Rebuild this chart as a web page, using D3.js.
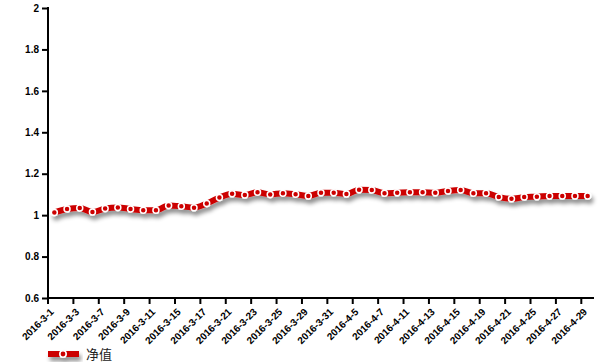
<!DOCTYPE html>
<html>
<head>
  <meta charset="UTF-8">
  <style>
body{ margin:0; background:#fff; }
svg{ display:block; }
.axis text{ font-family:"Liberation Sans", Arial, sans-serif; font-size:10px; font-weight:bold; fill:#000; }
.legend text{ font-family:"Noto Sans CJK SC", sans-serif; font-size:13px; fill:#222; }
  </style>
</head>
<body>
<svg></svg>
<script src="https://d3js.org/d3.v7.min.js"></script>
<script>

let width = 600, height = 362;

// trading days 2016-3-1 .. 2016-4-29
let dates = ["2016-3-1","2016-3-2","2016-3-3","2016-3-4","2016-3-7","2016-3-8","2016-3-9","2016-3-10","2016-3-11",
  "2016-3-14","2016-3-15","2016-3-16","2016-3-17","2016-3-18","2016-3-21","2016-3-22","2016-3-23","2016-3-24",
  "2016-3-25","2016-3-28","2016-3-29","2016-3-30","2016-3-31","2016-4-1","2016-4-5","2016-4-6","2016-4-7",
  "2016-4-8","2016-4-11","2016-4-12","2016-4-13","2016-4-14","2016-4-15","2016-4-18","2016-4-19","2016-4-20",
  "2016-4-21","2016-4-22","2016-4-25","2016-4-26","2016-4-27","2016-4-28","2016-4-29"]

let nav = [1.013,1.030,1.035,1.015,1.032,1.037,1.030,1.024,1.024,1.047,1.043,1.036,1.056,1.085,1.103,1.097,
  1.110,1.100,1.106,1.101,1.093,1.108,1.108,1.102,1.123,1.121,1.106,1.108,1.110,1.110,1.108,1.117,1.121,
  1.106,1.106,1.087,1.079,1.087,1.089,1.093,1.092,1.093,1.092]

let yTicks = [0.6, 0.8, 1, 1.2, 1.4, 1.6, 1.8, 2]
let seriesName = "净值"

let svg = d3.select("svg").attr("width", width).attr("height", height)

let x = d3.scaleBand().domain(dates).range([48, 594]).padding(0)
let y = d3.scaleLinear().domain([0.6, 2]).range([298, 8])

let defs = svg.append("defs")
let f = defs.append("filter").attr("id", "shadow")
    .attr("x", "-10%").attr("y", "-50%").attr("width", "120%").attr("height", "300%")
f.append("feDropShadow").attr("dx", 2).attr("dy", 4).attr("stdDeviation", 2)
    .attr("flood-color", "#000").attr("flood-opacity", 0.45)

// y axis
let yAxis = svg.append("g").attr("class", "axis")
    .attr("transform", "translate(48,0)")
    .call(d3.axisLeft(y).tickValues(yTicks).tickSize(6).tickPadding(3).tickFormat(d3.format("")))
yAxis.select(".domain").remove()
yAxis.selectAll("line").attr("stroke", "#000").attr("stroke-width", 2)
svg.append("line").attr("x1", 48).attr("x2", 48).attr("y1", 7).attr("y2", 299)
    .attr("stroke", "#000").attr("stroke-width", 2)

// x axis
let labelDates = dates.filter((d, i) => i % 2 == 0)
let xAxis = svg.append("g").attr("class", "axis")
    .attr("transform", "translate(0,298)")
xAxis.append("line").attr("x1", 47).attr("x2", 594).attr("stroke", "#000").attr("stroke-width", 2)
let xt = xAxis.selectAll("g.tick").data(labelDates).enter().append("g")
    .attr("class", "tick")
    .attr("transform", d => "translate(" + x(d) + ",0)")
xt.append("line").attr("y1", 0).attr("y2", 6).attr("stroke", "#000").attr("stroke-width", 2)
xt.append("text")
    .attr("text-anchor", "end")
    .attr("transform", "translate(4,12) rotate(-45)")
    .attr("dy", "0.35em")
    .text(d => d)

// line
let line = d3.line()
    .x((d, i) => x(dates[i]) + x.bandwidth() / 2)
    .y(d => y(d))
    .curve(d3.curveMonotoneX)

let plot = svg.append("g").attr("filter", "url(#shadow)")
plot.append("path").datum(nav)
    .attr("d", line)
    .attr("fill", "none")
    .attr("stroke", "#cc0000")
    .attr("stroke-width", 6)
    .attr("stroke-linejoin", "round")
plot.selectAll("circle").data(nav).enter().append("circle")
    .attr("cx", (d, i) => x(dates[i]) + x.bandwidth() / 2)
    .attr("cy", d => y(d))
    .attr("r", 3)
    .attr("fill", "#cc0000")
    .attr("stroke", "#fff")
    .attr("stroke-width", 1.5)

// legend
let legend = svg.append("g").attr("class", "legend").attr("transform", "translate(48,354)")
let lg = legend.append("g").attr("filter", "url(#shadow)")
lg.append("line").attr("x1", 0).attr("x2", 31).attr("stroke", "#cc0000").attr("stroke-width", 6)
lg.append("circle").attr("cx", 15).attr("r", 3.2).attr("fill", "#cc0000")
    .attr("stroke", "#fff").attr("stroke-width", 1.6)
legend.append("text").attr("x", 38).attr("dy", "0.35em").text(seriesName)

</script>
</body>
</html>
